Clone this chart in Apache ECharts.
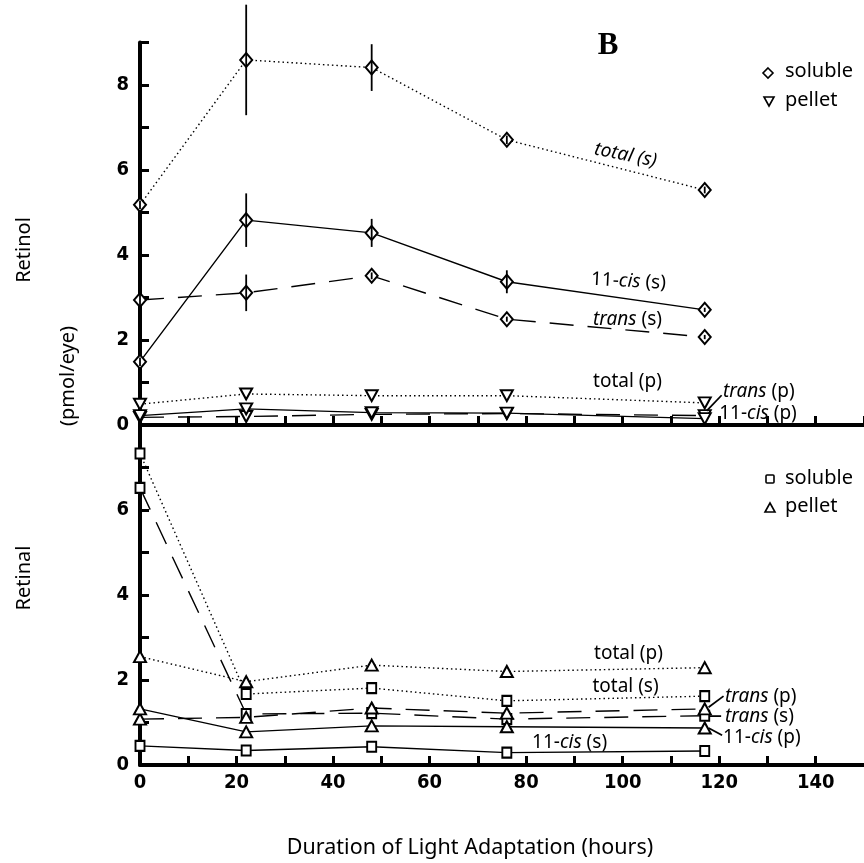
<!DOCTYPE html>
<html><head><meta charset="utf-8">
<script src="https://cdn.jsdelivr.net/npm/echarts@6/dist/echarts.min.js"></script>
<style>html,body{margin:0;padding:0;background:#fff}#c{width:864px;height:863px}</style>
</head><body><div id="c"></div>
<script>
// ---- data ----
const hours = [0, 22, 48, 76, 117];
const xTicks = [0, 20, 40, 60, 80, 100, 120, 140];
const retinolYTicks = [0, 2, 4, 6, 8];
const retinalYTicks = [0, 2, 4, 6];

// Retinol (top panel)
const retinolTotalS = [5.18, 8.59, 8.41, 6.71, 5.53];
const retinolCisS   = [1.49, 4.82, 4.52, 3.37, 2.71];
const retinolTransS = [2.94, 3.11, 3.51, 2.49, 2.07];
const retinolTotalP = [0.49, 0.73, 0.69, 0.69, 0.52];
const retinolTransP = [0.18, 0.20, 0.25, 0.27, 0.22];
const retinolCisP   = [0.22, 0.38, 0.29, 0.28, 0.15];
const retinolTotalSErr = [0.10, 1.30, 0.55, 0.10, 0.08];
const retinolCisSErr   = [0.10, 0.63, 0.33, 0.27, 0.05];
const retinolTransSErr = [0.15, 0.43, 0.08, 0.06, 0.05];

// Retinal (bottom panel)
const retinalTotalS = [7.33, 1.67, 1.81, 1.51, 1.62];
const retinalTransS = [6.52, 1.20, 1.22, 1.08, 1.16];
const retinalCisS   = [0.45, 0.34, 0.43, 0.29, 0.33];
const retinalTotalP = [2.55, 1.96, 2.35, 2.20, 2.29];
const retinalTransP = [1.08, 1.12, 1.34, 1.22, 1.32];
const retinalCisP   = [1.32, 0.78, 0.92, 0.90, 0.87];

// annotation labels: [text(rich), x(hours), y(value), panel, align, rotation]
const annotations = [
  ['{i|total (s)}', 100.6, 6.35, 0, 'center', -0.2],
  ['{n|11-}{i|cis}{n| (s)}', 101.2, 3.38, 0, 'center', -0.05],
  ['{i|trans}{n| (s)}', 101.0, 2.47, 0, 'center', 0],
  ['{n|total (p)}', 101.0, 1.02, 0, 'center', 0],
  ['{i|trans}{n| (p)}', 120.8, 0.78, 0, 'left', 0],
  ['{n|11-}{i|cis}{n| (p)}', 120.0, 0.28, 0, 'left', 0],
  ['{n|total (p)}', 101.2, 2.61, 1, 'center', 0],
  ['{n|total (s)}', 100.6, 1.84, 1, 'center', 0],
  ['{i|trans}{n| (p)}', 121.2, 1.62, 1, 'left', 0],
  ['{i|trans}{n| (s)}', 121.2, 1.15, 1, 'left', 0],
  ['{n|11-}{i|cis}{n| (p)}', 120.8, 0.64, 1, 'left', 0],
  ['{n|11-}{i|cis}{n| (s)}', 89.0, 0.52, 1, 'center', 0]
];
// leader lines: [x1,y1,x2,y2,panel]
const leaders = [
  [117.4, 0.33, 120.5, 0.70, 0],
  [117.8, 1.36, 120.9, 1.62, 1],
  [118.0, 1.15, 120.4, 1.15, 1],
  [117.8, 0.87, 120.6, 0.70, 1]
];

const chart = echarts.init(document.getElementById('c'), null, {renderer: 'canvas'});
const tickFont = {fontFamily: '"DejaVu Sans Condensed","Liberation Sans Narrow","Liberation Sans",sans-serif', fontWeight: 'bold', fontSize: 20, color: '#000'};
const textFont = '"Noto Sans","Open Sans",sans-serif';

const dotted = [1.5, 3];
const dashed = [24, 14];

function pairs(ys) { return hours.map((h, i) => [h, ys[i]]); }
function errData(ys, es) { return hours.map((h, i) => [h, ys[i] - es[i], ys[i] + es[i]]); }

function lineSeries(ys, panel, dash, symbol, size, rotate) {
  return {
    type: 'line', xAxisIndex: panel, yAxisIndex: panel, data: pairs(ys),
    symbol: symbol, symbolSize: size, symbolRotate: rotate || 0, showAllSymbol: true,
    lineStyle: {color: '#000', width: 1.4, type: dash},
    itemStyle: {color: '#fff', borderColor: '#000', borderWidth: 2},
    silent: true, animation: false, z: 3
  };
}
function errSeries(ys, es, panel) {
  return {
    type: 'custom', xAxisIndex: panel, yAxisIndex: panel, data: errData(ys, es), clip: false,
    encode: {x: 0, y: [1, 2]}, silent: true, animation: false, z: 4,
    renderItem: function (params, api) {
      const a = api.coord([api.value(0), api.value(1)]);
      const b = api.coord([api.value(0), api.value(2)]);
      return {type: 'line', shape: {x1: a[0], y1: a[1], x2: b[0], y2: b[1]}, style: {stroke: '#000', lineWidth: 1.8}};
    }
  };
}

const diamond = 'diamond', tri = 'triangle', sq = 'rect';

const axisLine = {show: true, lineStyle: {color: '#000', width: 4}};
const axisTick = {show: true, inside: true, length: 9, lineStyle: {color: '#000', width: 3}};

const option = {
  animation: false,
  backgroundColor: '#fff',
  grid: [
    {left: 140, right: -2, top: 42.5, height: 382.5},
    {left: 140, right: -2, top: 425, height: 340}
  ],
  xAxis: [
    {type: 'value', gridIndex: 0, min: 0, max: 150, interval: 10, axisLine: axisLine, axisTick: axisTick,
     axisLabel: {show: false}, splitLine: {show: false}},
    {type: 'value', gridIndex: 1, min: 0, max: 150, interval: 10, axisLine: axisLine, axisTick: axisTick,
     axisLabel: Object.assign({margin: 8, showMaxLabel: false, formatter: v => xTicks.includes(v) ? String(v) : ''}, tickFont),
     splitLine: {show: false}}
  ],
  yAxis: [
    {type: 'value', gridIndex: 0, min: 0, max: 9, interval: 1, offset: 3, axisLine: axisLine, axisTick: axisTick,
     axisLabel: Object.assign({margin: 8, formatter: v => retinolYTicks.includes(v) ? String(v) : ''}, tickFont),
     splitLine: {show: false}},
    {type: 'value', gridIndex: 1, min: 0, max: 8, interval: 1, offset: 3, axisLine: axisLine, axisTick: axisTick,
     axisLabel: Object.assign({margin: 8, formatter: v => retinalYTicks.includes(v) ? String(v) : ''}, tickFont),
     splitLine: {show: false}}
  ],
  series: [
    errSeries(retinolTotalS, retinolTotalSErr, 0),
    errSeries(retinolCisS, retinolCisSErr, 0),
    errSeries(retinolTransS, retinolTransSErr, 0),
    lineSeries(retinolTotalS, 0, dotted, diamond, [12, 14]),
    lineSeries(retinolCisS, 0, 'solid', diamond, [12, 14]),
    lineSeries(retinolTransS, 0, dashed, diamond, [12, 14]),
    lineSeries(retinolTotalP, 0, dotted, tri, [12, 11], 180),
    lineSeries(retinolTransP, 0, dashed, tri, [12, 11], 180),
    lineSeries(retinolCisP, 0, 'solid', tri, [12, 11], 180),
    lineSeries(retinalTotalS, 1, dotted, sq, [9, 10]),
    lineSeries(retinalTransS, 1, dashed, sq, [9, 10]),
    lineSeries(retinalCisS, 1, 'solid', sq, [9, 10]),
    lineSeries(retinalTotalP, 1, dotted, tri, [12, 11]),
    lineSeries(retinalTransP, 1, dashed, tri, [12, 11]),
    lineSeries(retinalCisP, 1, 'solid', tri, [12, 11])
  ]
};
chart.setOption(option);

const FS = 19;
const rich = {n: {fontFamily: textFont, fontSize: FS, fill: '#000', color: '#000'},
              i: {fontFamily: textFont, fontSize: FS, fontStyle: 'italic', fill: '#000', color: '#000'}};
const g = [];
annotations.forEach(a => {
  const p = chart.convertToPixel({gridIndex: a[3]}, [a[1], a[2]]);
  g.push({type: 'text', x: p[0], y: p[1], rotation: a[5], silent: true, z: 10,
    style: {text: a[0], rich: rich, align: a[4], verticalAlign: 'middle', fill: '#000', fontFamily: textFont, fontSize: FS}});
});
leaders.forEach(l => {
  const p1 = chart.convertToPixel({gridIndex: l[4]}, [l[0], l[1]]);
  const p2 = chart.convertToPixel({gridIndex: l[4]}, [l[2], l[3]]);
  g.push({type: 'line', silent: true, z: 10, shape: {x1: p1[0], y1: p1[1], x2: p2[0], y2: p2[1]}, style: {stroke: '#000', lineWidth: 1.8}});
});
// panel letter
g.push({type: 'text', x: 608, y: 46, silent: true, style: {text: 'B', font: 'bold 31px "Liberation Serif", serif', fill: '#000', align: 'center', verticalAlign: 'middle'}});
// legends
const legFont = '20px ' + textFont;
g.push({type: 'polygon', silent: true, shape: {points: [[768, 68], [773, 73], [768, 78], [763, 73]]}, style: {fill: '#fff', stroke: '#000', lineWidth: 1.6}});
g.push({type: 'text', x: 785, y: 71, silent: true, style: {text: 'soluble', font: legFont, fill: '#000', verticalAlign: 'middle'}});
g.push({type: 'polygon', silent: true, shape: {points: [[764, 97], [774, 97], [769, 106]]}, style: {fill: '#fff', stroke: '#000', lineWidth: 1.6}});
g.push({type: 'text', x: 785, y: 100, silent: true, style: {text: 'pellet', font: legFont, fill: '#000', verticalAlign: 'middle'}});
g.push({type: 'rect', silent: true, shape: {x: 766, y: 475, width: 8, height: 8, r: 1}, style: {fill: '#fff', stroke: '#000', lineWidth: 1.6}});
g.push({type: 'text', x: 785, y: 478, silent: true, style: {text: 'soluble', font: legFont, fill: '#000', verticalAlign: 'middle'}});
g.push({type: 'polygon', silent: true, shape: {points: [[765, 512], [775, 512], [770, 503]]}, style: {fill: '#fff', stroke: '#000', lineWidth: 1.6}});
g.push({type: 'text', x: 785, y: 506, silent: true, style: {text: 'pellet', font: legFont, fill: '#000', verticalAlign: 'middle'}});
// axis titles
g.push({type: 'text', x: 24, y: 250, rotation: Math.PI / 2, silent: true, style: {text: 'Retinol', font: '20px ' + textFont, fill: '#000', align: 'center', verticalAlign: 'middle'}});
g.push({type: 'text', x: 68, y: 376, rotation: Math.PI / 2, silent: true, style: {text: '(pmol/eye)', font: '20px ' + textFont, fill: '#000', align: 'center', verticalAlign: 'middle'}});
g.push({type: 'text', x: 24, y: 578, rotation: Math.PI / 2, silent: true, style: {text: 'Retinal', font: '20px ' + textFont, fill: '#000', align: 'center', verticalAlign: 'middle'}});
g.push({type: 'text', x: 470, y: 848, silent: true, style: {text: 'Duration of Light Adaptation (hours)', font: '21.5px ' + textFont, fill: '#000', align: 'center', verticalAlign: 'middle'}});
chart.setOption({graphic: g});
</script>
</body></html>
